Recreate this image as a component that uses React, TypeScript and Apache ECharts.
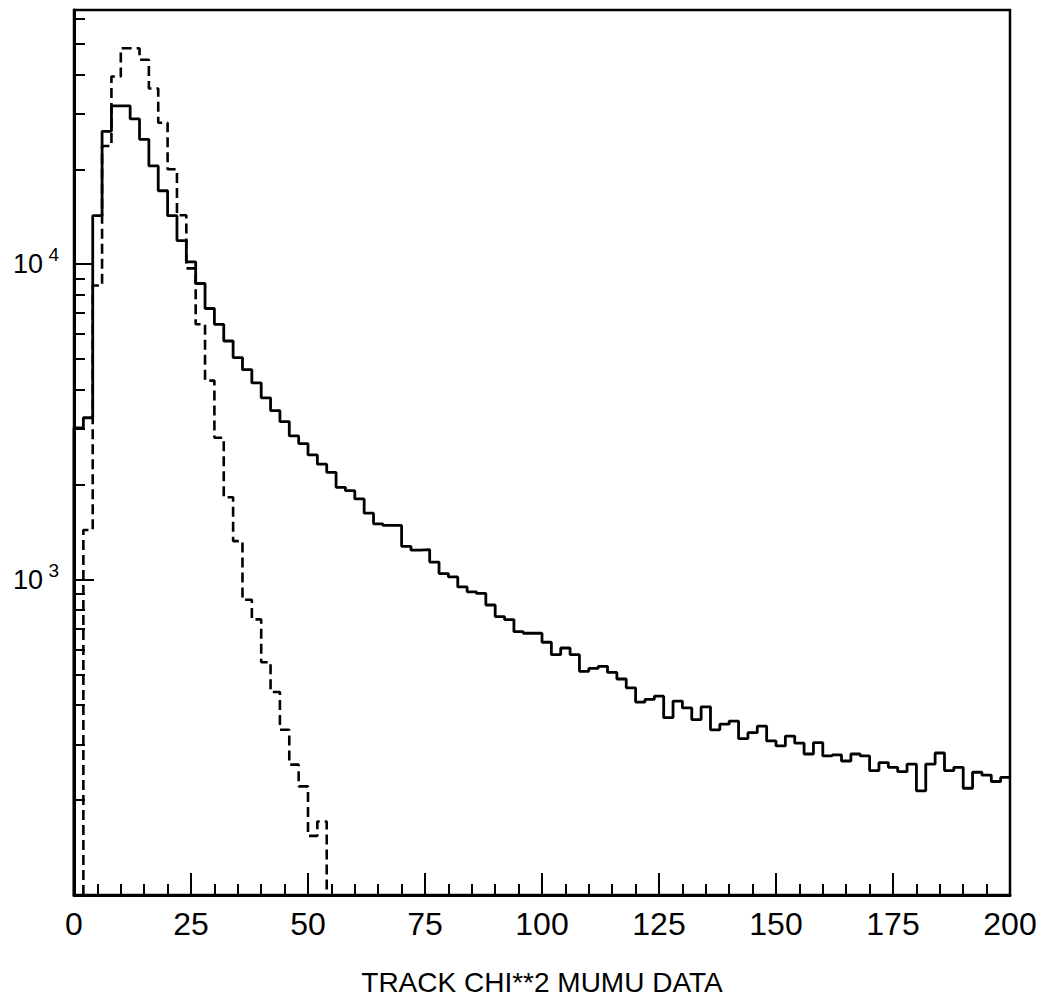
import React, { useEffect, useRef } from "react";
import * as echarts from "echarts";

// Histogram binning (chi**2 from 0 to 200 in bins of width 2)
const BIN_WIDTH = 2;
const X_MIN = 0;
const X_MAX = 200;
const Y_MIN = 100;
const Y_MAX = 64000;

// Solid histogram: mumu data, counts per bin (100 bins)
const dataCounts = [
  3030, 3260, 14260, 26400, 31800, 31800, 28900, 24900, 20500, 17100,
  14260, 11890, 10180, 8690, 7240, 6450, 5710, 5060, 4630, 4205,
  3770, 3435, 3170, 2855, 2700, 2486, 2323, 2188, 1962, 1914,
  1802, 1624, 1503, 1485, 1485, 1275, 1240, 1245, 1137, 1045,
  1020, 948, 915, 904, 831, 763, 747, 684, 676, 676,
  633, 578, 607, 578, 512, 523, 531, 508, 484, 454,
  409, 417, 427, 365, 412, 392, 360, 395, 334, 348,
  356, 313, 327, 343, 308, 297, 319, 303, 280, 304,
  276, 278, 266, 280, 276, 248, 263, 254, 246, 260,
  214, 260, 282, 248, 254, 218, 245, 240, 229, 236,
];

// Dashed histogram: counts per bin (bins beyond this list are empty)
const dashedCounts = [
  0, 1436, 8560, 23700, 39400, 48400, 48400, 44500, 36100, 28100,
  20000, 14300, 9700, 6450, 4277, 2817, 1824, 1325, 863, 748,
  547, 440, 334, 259, 221, 154, 171,
];

// Axis tick values
const X_INTERVAL = 25;
const X_MINOR_SPLIT = 5;
const Y_LABEL_DECADES = [3, 4];
const Y_MINOR_TICKS = [
  200, 300, 400, 500, 600, 700, 800, 900,
  2000, 3000, 4000, 5000, 6000, 7000, 8000, 9000,
  20000, 30000, 40000, 50000, 60000,
];
const X_AXIS_NAME = "TRACK CHI**2 MUMU DATA";

function stepPoints(counts: number[], dropStart: boolean, dropEnd: boolean) {
  let first = 0;
  while (first < counts.length && !(counts[first] > 0)) first++;
  let last = counts.length - 1;
  while (last >= 0 && !(counts[last] > 0)) last--;
  const pts: number[][] = [];
  if (first > last) return pts;
  const clamp = (v: number) => Math.max(v, Y_MIN);
  if (dropStart) pts.push([first * BIN_WIDTH, Y_MIN]);
  for (let i = first; i <= last; i++) {
    const v = clamp(counts[i]);
    pts.push([i * BIN_WIDTH, v]);
    pts.push([(i + 1) * BIN_WIDTH, v]);
  }
  if (dropEnd) pts.push([(last + 1) * BIN_WIDTH, Y_MIN]);
  return pts;
}

const FONT = "Arial, 'Liberation Sans', sans-serif";

export default function App() {
  const ref = useRef<HTMLDivElement>(null);
  useEffect(() => {
    if (!ref.current) return;
    const chart = echarts.init(ref.current, undefined, { renderer: "svg" });
    const solid = stepPoints(dataCounts, true, false);
    const dashed = stepPoints(dashedCounts, true, true);
    const logMin = Math.log10(Y_MIN);
    const logMax = Math.log10(Y_MAX);
    chart.setOption({
      animation: false,
      backgroundColor: "#ffffff",
      textStyle: { fontFamily: FONT },
      grid: {
        left: 74,
        right: 36,
        top: 10,
        bottom: 101,
        show: true,
        borderColor: "#000",
        borderWidth: 2.5,
        containLabel: false,
      },
      xAxis: {
        type: "value",
        min: X_MIN,
        max: X_MAX,
        interval: X_INTERVAL,
        name: X_AXIS_NAME,
        nameLocation: "middle",
        nameGap: 73,
        nameTextStyle: { color: "#000", fontSize: 28, fontFamily: FONT },
        axisLine: { show: true, lineStyle: { color: "#000", width: 3 } },
        axisTick: { show: true, inside: true, length: 22, lineStyle: { color: "#000", width: 2 } },
        minorTick: { show: true, splitNumber: X_MINOR_SPLIT, length: 11, lineStyle: { color: "#000", width: 2 } },
        axisLabel: { color: "#000", fontSize: 32, fontFamily: FONT, margin: 13 },
        splitLine: { show: false },
        minorSplitLine: { show: false },
      },
      yAxis: [
        {
          // data axis: logarithmic, labels show the mantissa "10"
          type: "log",
          logBase: 10,
          min: Y_MIN,
          max: Y_MAX,
          axisLine: { show: true, lineStyle: { color: "#000", width: 3 } },
          axisTick: { show: true, inside: true, length: 20, lineStyle: { color: "#000", width: 2 } },
          axisLabel: {
            margin: 31,
            color: "#000",
            fontFamily: FONT,
            fontSize: 27,
            verticalAlign: "middle",
            formatter: (v: number) => {
              const e = Math.log10(v);
              const r = Math.round(e);
              if (Math.abs(e - r) < 1e-6 && Y_LABEL_DECADES.indexOf(r) >= 0) return "10";
              return "";
            },
          },
          splitLine: { show: false },
        },
        {
          // helper axis in log10 space: minor ticks and exponent superscripts
          type: "value",
          min: logMin,
          max: logMax,
          position: "left",
          axisLine: { show: false },
          axisLabel: {
            show: true,
            customValues: Y_LABEL_DECADES,
            formatter: (v: number) => String(Math.round(v)),
            color: "#000",
            fontFamily: FONT,
            fontSize: 19,
            lineHeight: 19,
            margin: 15,
            verticalAlign: "bottom",
          },
          axisTick: {
            show: true,
            inside: true,
            length: 11,
            customValues: Y_MINOR_TICKS.map((v) => Math.log10(v)),
            lineStyle: { color: "#000", width: 2 },
          },
          splitLine: { show: false },
        },
      ],
      series: [
        {
          type: "line",
          yAxisIndex: 0,
          data: solid,
          showSymbol: false,
          symbol: "none",
          clip: true,
          lineStyle: { color: "#000", width: 2.8 },
        },
        {
          type: "line",
          yAxisIndex: 0,
          data: dashed,
          showSymbol: false,
          symbol: "none",
          clip: true,
          lineStyle: { color: "#000", width: 2.6, type: [10, 5] },
        },
      ],
    });
    return () => chart.dispose();
  }, []);
  return (
    <div
      ref={ref}
      style={{
        position: "absolute",
        left: 0,
        top: 0,
        width: 1046,
        height: 1001,
        background: "#fff",
        fontFamily: "'Liberation Sans', sans-serif",
      }}
    />
  );
}
